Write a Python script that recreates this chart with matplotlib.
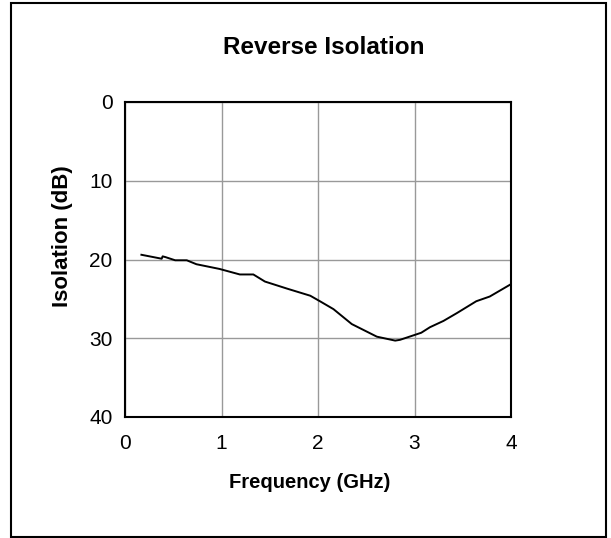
import matplotlib.pyplot as plt
from matplotlib.patches import Rectangle

plt.rcParams['font.family'] = ['Liberation Sans', 'DejaVu Sans']

# values
freq_ghz = [0.17, 0.38, 0.39, 0.42, 0.52, 0.64, 0.74, 0.98, 1.19, 1.33, 1.45,
            1.68, 1.92, 2.02, 2.16, 2.35, 2.61, 2.80, 2.85, 3.07, 3.16, 3.30,
            3.44, 3.64, 3.78, 3.99]
isolation_db = [19.4, 19.9, 19.6, 19.7, 20.1, 20.1, 20.6, 21.2, 21.9, 21.9, 22.8,
                23.7, 24.6, 25.3, 26.3, 28.2, 29.8, 30.3, 30.2, 29.3, 28.6, 27.8,
                26.8, 25.3, 24.7, 23.2]
x_ticks = [0, 1, 2, 3, 4]
y_ticks = [0, 10, 20, 30, 40]

fig = plt.figure(figsize=(6.11, 5.38), dpi=100)
ax = fig.add_axes([125 / 611, 1 - 417 / 538, (511 - 125) / 611, (417 - 102) / 538])

ax.plot(freq_ghz, isolation_db, color='black', lw=1.4)

ax.set_xlim(0, 4)
ax.set_ylim(40, 0)
ax.set_xticks(x_ticks)
ax.set_yticks(y_ticks)
ax.tick_params(length=0, labelsize=15)
ax.tick_params(axis='x', pad=12)
ax.tick_params(axis='y', pad=9)
ax.grid(True, color='#999999', lw=1)
ax.set_axisbelow(True)
for s in ax.spines.values():
    s.set_linewidth(1.5)

ax.set_xlabel('Frequency (GHz)', fontsize=14.5, fontweight='bold', va='center')
ax.xaxis.set_label_coords((310 - 125) / 386, (417 - 483) / 315)
ax.set_ylabel('Isolation (dB)', fontsize=16, fontweight='bold', va='center')
ax.yaxis.set_label_coords((63 - 125) / 386, (417 - 236) / 315)
fig.text(324 / 611, 1 - 47 / 538, 'Reverse Isolation', fontsize=17.5,
         fontweight='bold', ha='center', va='center')

# border around the whole chart
fig.patches.append(Rectangle((11 / 611, 1 / 538), 595 / 611, 534 / 538,
                             transform=fig.transFigure, fill=False,
                             edgecolor='black', lw=1.5))

fig.savefig('out.png', dpi=100)
